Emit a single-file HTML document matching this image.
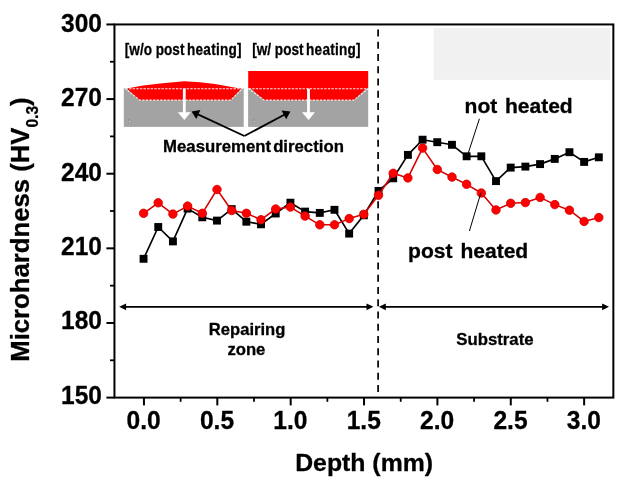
<!DOCTYPE html>
<html lang="en">
<head>
<meta charset="utf-8">
<title>Microhardness vs Depth</title>
<style>
html,body{margin:0;padding:0;background:#fff;}
body{width:625px;height:486px;overflow:hidden;}
svg{display:block;}
svg text{font-family:"Liberation Sans",sans-serif;font-weight:bold;fill:#000;stroke:#000;stroke-width:0.3px;stroke-linejoin:round;}
</style>
</head>
<body>
<svg width="625" height="486" viewBox="0 0 625 486">
<rect x="0" y="0" width="625" height="486" fill="#ffffff"/>

<rect x="433.7" y="28.1" width="176.5" height="51.7" fill="#f1f1f1"/>
<g>
<rect x="123.8" y="88" width="119.9" height="38.9" fill="#a3a3a3"/>
<rect x="248.1" y="88" width="120.1" height="38.9" fill="#a3a3a3"/>
<path d="M126.8 88.6 L143 85.6 L160 83.5 L184.5 81.3 L200 82.3 L215 83.9 L240 88.6 L241.4 88.6 L230.8 100.2 L139.6 100.2 Z" fill="#ff0000"/>
<path d="M125.5 88.7 H242.5 L230.8 100.1 H139.6 Z" fill="none" stroke="#fff" stroke-width="1.05" stroke-dasharray="2.4 1.2" stroke-opacity="0.9"/>
<rect x="248.2" y="71" width="120" height="17.4" fill="#ff0000"/>
<path d="M250.2 88 H366.6 L354 100.2 H264.2 Z" fill="#ff0000"/>
<path d="M248.6 88.7 H368 L354 100.1 H264.2 Z" fill="none" stroke="#fff" stroke-width="1.05" stroke-dasharray="2.4 1.2" stroke-opacity="0.9"/>
<path d="M182.9 88.8 H185.7 V112.2 H190.8 L184.3 120.1 L177.8 112.2 H182.9 Z" fill="#fff"/>
<path d="M307.1 88.8 H309.9 V112.2 H315.0 L308.5 120.1 L302.0 112.2 H307.1 Z" fill="#fff"/>
<path d="M128.9 119.2 V121.6" stroke="#6c7cb4" stroke-width="0.9" fill="none"/><path d="M129.4 122.3 H131.3" stroke="#b88484" stroke-width="0.6" fill="none"/><circle cx="129.5" cy="121.3" r="0.65" fill="#e4e4ec"/>
<path d="M253.5 119.2 V121.6" stroke="#6c7cb4" stroke-width="0.9" fill="none"/><path d="M254.0 122.3 H255.9" stroke="#b88484" stroke-width="0.6" fill="none"/><circle cx="254.1" cy="121.3" r="0.65" fill="#e4e4ec"/>
<line x1="244.40" y1="136.00" x2="197.40" y2="114.10" stroke="#000" stroke-width="1.8"/><path d="M191.60 111.40 L200.38 110.08 L196.24 118.97 Z" fill="#000"/>
<line x1="244.40" y1="136.00" x2="284.76" y2="114.42" stroke="#000" stroke-width="1.8"/><path d="M290.40 111.40 L286.19 119.21 L281.56 110.57 Z" fill="#000"/>
</g>
<text transform="translate(124.8 54.6) scale(0.824 1)" font-size="16.5" text-anchor="start">[w/o post<tspan dx="-1.8" style="letter-spacing:0.3px"> heating]</tspan></text>
<text transform="translate(252.2 54.6) scale(0.824 1)" font-size="16.5" text-anchor="start">[w/ post<tspan dx="-1.8" style="letter-spacing:0.3px"> heating]</tspan></text>
<text x="163.1" y="152" font-size="16.75">Measurement<tspan dx="-2.6"> </tspan>direction</text>
<line x1="378.1" y1="29.5" x2="378.1" y2="392.1" stroke="#000" stroke-width="1.7" stroke-dasharray="7 5.26"/>
<line x1="125.10000000000001" y1="306.85" x2="367.5" y2="306.85" stroke="#000" stroke-width="1.55"/><path d="M119.2 306.85 L126.10000000000001 303.45000000000005 L126.10000000000001 310.25 Z" fill="#000"/><path d="M373.4 306.85 L366.5 303.45000000000005 L366.5 310.25 Z" fill="#000"/>
<line x1="384.79999999999995" y1="306.85" x2="603.1" y2="306.85" stroke="#000" stroke-width="1.55"/><path d="M378.9 306.85 L385.79999999999995 303.45000000000005 L385.79999999999995 310.25 Z" fill="#000"/><path d="M609.0 306.85 L602.1 303.45000000000005 L602.1 310.25 Z" fill="#000"/>
<text x="247.1" y="334.7" font-size="16.6" text-anchor="middle">Repairing</text>
<text x="246.4" y="354.8" font-size="16.7" text-anchor="middle">zone</text>
<text x="456.2" y="344.6" font-size="16.8">Substrate</text>
<polyline points="143.6,258.8 158.2,227.0 172.9,241.4 187.6,208.6 202.3,217.3 217.0,220.6 231.7,209.1 246.4,221.7 261.0,224.3 275.7,213.5 290.4,202.7 305.1,211.6 319.8,212.9 334.5,209.8 349.2,233.6 363.8,215.3 378.5,190.9 393.2,178.3 407.9,154.9 422.6,139.7 437.3,142.2 452.0,144.8 466.6,156.3 481.3,156.3 496.0,181.1 510.7,167.6 525.4,166.6 540.1,164.1 554.8,158.9 569.4,152.2 584.1,161.9 598.8,157.3" fill="none" stroke="#000" stroke-width="1.65" stroke-linejoin="round"/>
<rect x="139.60" y="254.85" width="7.9" height="7.9" fill="#000"/>
<rect x="154.29" y="223.05" width="7.9" height="7.9" fill="#000"/>
<rect x="168.97" y="237.45" width="7.9" height="7.9" fill="#000"/>
<rect x="183.66" y="204.65" width="7.9" height="7.9" fill="#000"/>
<rect x="198.34" y="213.35" width="7.9" height="7.9" fill="#000"/>
<rect x="213.03" y="216.65" width="7.9" height="7.9" fill="#000"/>
<rect x="227.72" y="205.15" width="7.9" height="7.9" fill="#000"/>
<rect x="242.40" y="217.75" width="7.9" height="7.9" fill="#000"/>
<rect x="257.09" y="220.35" width="7.9" height="7.9" fill="#000"/>
<rect x="271.77" y="209.55" width="7.9" height="7.9" fill="#000"/>
<rect x="286.46" y="198.75" width="7.9" height="7.9" fill="#000"/>
<rect x="301.15" y="207.65" width="7.9" height="7.9" fill="#000"/>
<rect x="315.83" y="208.95" width="7.9" height="7.9" fill="#000"/>
<rect x="330.52" y="205.85" width="7.9" height="7.9" fill="#000"/>
<rect x="345.20" y="229.65" width="7.9" height="7.9" fill="#000"/>
<rect x="359.89" y="211.35" width="7.9" height="7.9" fill="#000"/>
<rect x="374.58" y="186.95" width="7.9" height="7.9" fill="#000"/>
<rect x="389.26" y="174.35" width="7.9" height="7.9" fill="#000"/>
<rect x="403.95" y="150.95" width="7.9" height="7.9" fill="#000"/>
<rect x="418.63" y="135.75" width="7.9" height="7.9" fill="#000"/>
<rect x="433.32" y="138.25" width="7.9" height="7.9" fill="#000"/>
<rect x="448.01" y="140.85" width="7.9" height="7.9" fill="#000"/>
<rect x="462.69" y="152.35" width="7.9" height="7.9" fill="#000"/>
<rect x="477.38" y="152.35" width="7.9" height="7.9" fill="#000"/>
<rect x="492.06" y="177.15" width="7.9" height="7.9" fill="#000"/>
<rect x="506.75" y="163.65" width="7.9" height="7.9" fill="#000"/>
<rect x="521.44" y="162.65" width="7.9" height="7.9" fill="#000"/>
<rect x="536.12" y="160.15" width="7.9" height="7.9" fill="#000"/>
<rect x="550.81" y="154.95" width="7.9" height="7.9" fill="#000"/>
<rect x="565.49" y="148.25" width="7.9" height="7.9" fill="#000"/>
<rect x="580.18" y="157.95" width="7.9" height="7.9" fill="#000"/>
<rect x="594.87" y="153.35" width="7.9" height="7.9" fill="#000"/>
<polyline points="143.6,213.3 158.2,202.8 172.9,214.1 187.6,206.1 202.3,213.3 217.0,189.5 231.7,210.5 246.4,213.3 261.0,219.7 275.7,209.0 290.4,207.1 305.1,216.1 319.8,224.8 334.5,224.8 349.2,218.6 363.8,214.3 378.5,195.3 393.2,173.3 407.9,177.9 422.6,148.1 437.3,169.5 452.0,177.1 466.6,184.3 481.3,193.0 496.0,209.9 510.7,203.3 525.4,202.6 540.1,197.4 554.8,204.6 569.4,210.2 584.1,221.4 598.8,217.6" fill="none" stroke="#d80000" stroke-width="1.55" stroke-linejoin="round"/>
<circle cx="143.6" cy="213.3" r="4.25" fill="#ff0000" stroke="#d40000" stroke-width="0.8"/>
<circle cx="158.2" cy="202.8" r="4.25" fill="#ff0000" stroke="#d40000" stroke-width="0.8"/>
<circle cx="172.9" cy="214.1" r="4.25" fill="#ff0000" stroke="#d40000" stroke-width="0.8"/>
<circle cx="187.6" cy="206.1" r="4.25" fill="#ff0000" stroke="#d40000" stroke-width="0.8"/>
<circle cx="202.3" cy="213.3" r="4.25" fill="#ff0000" stroke="#d40000" stroke-width="0.8"/>
<circle cx="217.0" cy="189.5" r="4.25" fill="#ff0000" stroke="#d40000" stroke-width="0.8"/>
<circle cx="231.7" cy="210.5" r="4.25" fill="#ff0000" stroke="#d40000" stroke-width="0.8"/>
<circle cx="246.4" cy="213.3" r="4.25" fill="#ff0000" stroke="#d40000" stroke-width="0.8"/>
<circle cx="261.0" cy="219.7" r="4.25" fill="#ff0000" stroke="#d40000" stroke-width="0.8"/>
<circle cx="275.7" cy="209.0" r="4.25" fill="#ff0000" stroke="#d40000" stroke-width="0.8"/>
<circle cx="290.4" cy="207.1" r="4.25" fill="#ff0000" stroke="#d40000" stroke-width="0.8"/>
<circle cx="305.1" cy="216.1" r="4.25" fill="#ff0000" stroke="#d40000" stroke-width="0.8"/>
<circle cx="319.8" cy="224.8" r="4.25" fill="#ff0000" stroke="#d40000" stroke-width="0.8"/>
<circle cx="334.5" cy="224.8" r="4.25" fill="#ff0000" stroke="#d40000" stroke-width="0.8"/>
<circle cx="349.2" cy="218.6" r="4.25" fill="#ff0000" stroke="#d40000" stroke-width="0.8"/>
<circle cx="363.8" cy="214.3" r="4.25" fill="#ff0000" stroke="#d40000" stroke-width="0.8"/>
<circle cx="378.5" cy="195.3" r="4.25" fill="#ff0000" stroke="#d40000" stroke-width="0.8"/>
<circle cx="393.2" cy="173.3" r="4.25" fill="#ff0000" stroke="#d40000" stroke-width="0.8"/>
<circle cx="407.9" cy="177.9" r="4.25" fill="#ff0000" stroke="#d40000" stroke-width="0.8"/>
<circle cx="422.6" cy="148.1" r="4.25" fill="#ff0000" stroke="#d40000" stroke-width="0.8"/>
<circle cx="437.3" cy="169.5" r="4.25" fill="#ff0000" stroke="#d40000" stroke-width="0.8"/>
<circle cx="452.0" cy="177.1" r="4.25" fill="#ff0000" stroke="#d40000" stroke-width="0.8"/>
<circle cx="466.6" cy="184.3" r="4.25" fill="#ff0000" stroke="#d40000" stroke-width="0.8"/>
<circle cx="481.3" cy="193.0" r="4.25" fill="#ff0000" stroke="#d40000" stroke-width="0.8"/>
<circle cx="496.0" cy="209.9" r="4.25" fill="#ff0000" stroke="#d40000" stroke-width="0.8"/>
<circle cx="510.7" cy="203.3" r="4.25" fill="#ff0000" stroke="#d40000" stroke-width="0.8"/>
<circle cx="525.4" cy="202.6" r="4.25" fill="#ff0000" stroke="#d40000" stroke-width="0.8"/>
<circle cx="540.1" cy="197.4" r="4.25" fill="#ff0000" stroke="#d40000" stroke-width="0.8"/>
<circle cx="554.8" cy="204.6" r="4.25" fill="#ff0000" stroke="#d40000" stroke-width="0.8"/>
<circle cx="569.4" cy="210.2" r="4.25" fill="#ff0000" stroke="#d40000" stroke-width="0.8"/>
<circle cx="584.1" cy="221.4" r="4.25" fill="#ff0000" stroke="#d40000" stroke-width="0.8"/>
<circle cx="598.8" cy="217.6" r="4.25" fill="#ff0000" stroke="#d40000" stroke-width="0.8"/>
<line x1="479.4" y1="118.8" x2="467.3" y2="156" stroke="#000" stroke-width="1"/>
<line x1="480.9" y1="192.7" x2="469.4" y2="231" stroke="#000" stroke-width="1"/>
<text x="464.6" y="112.7" font-size="21.05">not<tspan dx="1.7"> </tspan>heated</text>
<text x="408.1" y="257.9" font-size="21.05">post<tspan dx="2"> </tspan>heated</text>
<rect x="114.45" y="24.45" width="498.90000000000003" height="373.15000000000003" fill="none" stroke="#000" stroke-width="2"/>
<line x1="106.4" y1="397.60" x2="114.45" y2="397.60" stroke="#000" stroke-width="2"/>
<text transform="translate(102.0 403.9) scale(0.95 1)" font-size="25.8" text-anchor="end">150</text>
<line x1="106.4" y1="322.97" x2="114.45" y2="322.97" stroke="#000" stroke-width="2"/>
<text transform="translate(102.0 329.48) scale(0.95 1)" font-size="25.8" text-anchor="end">180</text>
<line x1="106.4" y1="248.34" x2="114.45" y2="248.34" stroke="#000" stroke-width="2"/>
<text transform="translate(102.0 255.06) scale(0.95 1)" font-size="25.8" text-anchor="end">210</text>
<line x1="106.4" y1="173.71" x2="114.45" y2="173.71" stroke="#000" stroke-width="2"/>
<text transform="translate(102.0 180.64) scale(0.95 1)" font-size="25.8" text-anchor="end">240</text>
<line x1="106.4" y1="99.08" x2="114.45" y2="99.08" stroke="#000" stroke-width="2"/>
<text transform="translate(102.0 106.22) scale(0.95 1)" font-size="25.8" text-anchor="end">270</text>
<line x1="106.4" y1="24.45" x2="114.45" y2="24.45" stroke="#000" stroke-width="2"/>
<text transform="translate(102.0 31.8) scale(0.95 1)" font-size="25.8" text-anchor="end">300</text>
<line x1="110" y1="360.29" x2="114.45" y2="360.29" stroke="#000" stroke-width="1.8"/>
<line x1="110" y1="285.66" x2="114.45" y2="285.66" stroke="#000" stroke-width="1.8"/>
<line x1="110" y1="211.03" x2="114.45" y2="211.03" stroke="#000" stroke-width="1.8"/>
<line x1="110" y1="136.40" x2="114.45" y2="136.40" stroke="#000" stroke-width="1.8"/>
<line x1="110" y1="61.76" x2="114.45" y2="61.76" stroke="#000" stroke-width="1.8"/>
<line x1="143.95" y1="397.6" x2="143.95" y2="405.4" stroke="#000" stroke-width="2"/>
<text transform="translate(143.65 428.9) scale(0.96 1)" font-size="25.6" text-anchor="middle">0.0</text>
<line x1="217.31" y1="397.6" x2="217.31" y2="405.4" stroke="#000" stroke-width="2"/>
<text transform="translate(217.01 428.9) scale(0.96 1)" font-size="25.6" text-anchor="middle">0.5</text>
<line x1="290.68" y1="397.6" x2="290.68" y2="405.4" stroke="#000" stroke-width="2"/>
<text transform="translate(290.38 428.9) scale(0.96 1)" font-size="25.6" text-anchor="middle">1.0</text>
<line x1="364.04" y1="397.6" x2="364.04" y2="405.4" stroke="#000" stroke-width="2"/>
<text transform="translate(363.74 428.9) scale(0.96 1)" font-size="25.6" text-anchor="middle">1.5</text>
<line x1="437.41" y1="397.6" x2="437.41" y2="405.4" stroke="#000" stroke-width="2"/>
<text transform="translate(437.11 428.9) scale(0.96 1)" font-size="25.6" text-anchor="middle">2.0</text>
<line x1="510.77" y1="397.6" x2="510.77" y2="405.4" stroke="#000" stroke-width="2"/>
<text transform="translate(510.47 428.9) scale(0.96 1)" font-size="25.6" text-anchor="middle">2.5</text>
<line x1="584.14" y1="397.6" x2="584.14" y2="405.4" stroke="#000" stroke-width="2"/>
<text transform="translate(583.84 428.9) scale(0.96 1)" font-size="25.6" text-anchor="middle">3.0</text>
<line x1="180.63" y1="397.6" x2="180.63" y2="401.8" stroke="#000" stroke-width="1.8"/>
<line x1="254.00" y1="397.6" x2="254.00" y2="401.8" stroke="#000" stroke-width="1.8"/>
<line x1="327.36" y1="397.6" x2="327.36" y2="401.8" stroke="#000" stroke-width="1.8"/>
<line x1="400.73" y1="397.6" x2="400.73" y2="401.8" stroke="#000" stroke-width="1.8"/>
<line x1="474.09" y1="397.6" x2="474.09" y2="401.8" stroke="#000" stroke-width="1.8"/>
<line x1="547.46" y1="397.6" x2="547.46" y2="401.8" stroke="#000" stroke-width="1.8"/>
<text transform="translate(364.1 470.6) scale(1.005 1)" font-size="24.7" text-anchor="middle">Depth (mm)</text>
<text transform="translate(29.2 361.7) rotate(-90)" font-size="25.7" x="0" y="0">Microhardness (HV<tspan font-size="15.6" dy="8.4">0.3</tspan><tspan dy="-8.4">)</tspan></text>
</svg>
</body>
</html>
